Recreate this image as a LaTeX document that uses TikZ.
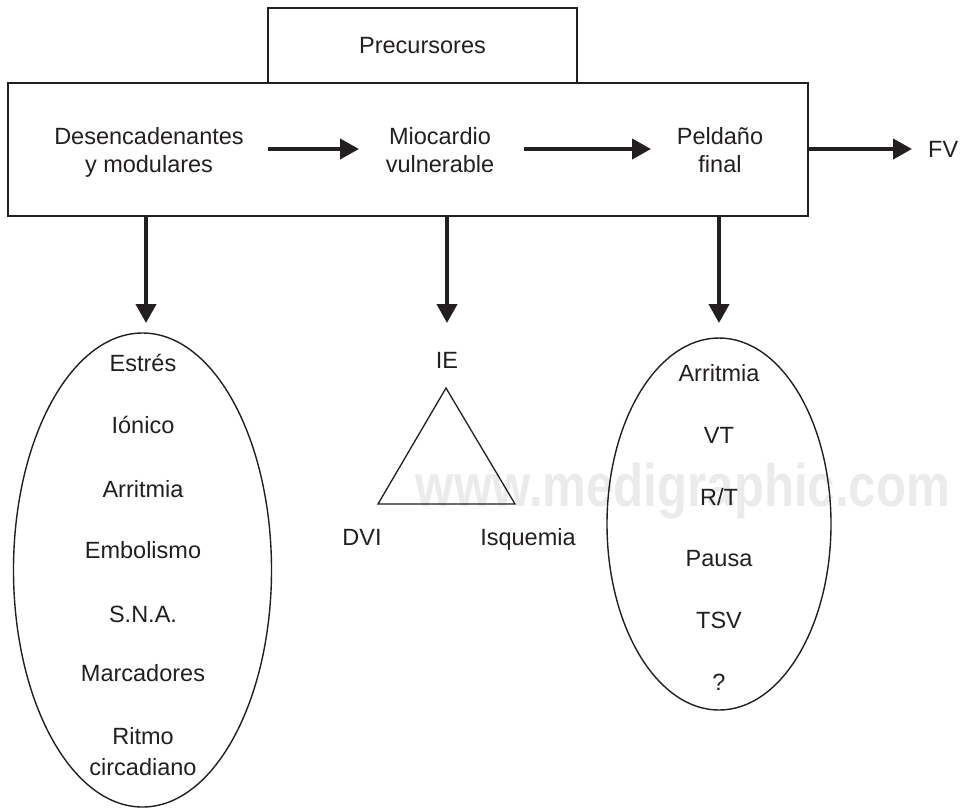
\documentclass[tikz,border=0pt]{standalone}
\usepackage{fontspec}
\setmainfont{Liberation Sans}
\usetikzlibrary{arrows.meta,shapes.geometric}
\definecolor{ink}{HTML}{231F20}
\begin{document}
\begin{tikzpicture}[x=1pt,y=-1pt,
  lbl/.style={anchor=base, font=\fontsize{23.5}{28}\selectfont, text=ink, inner sep=0pt},
  boxline/.style={draw=ink, line width=1.4pt},
  bigarrow/.style={draw=ink, line width=4pt, -{Triangle[length=19pt,width=20pt]}}
]
\useasboundingbox (0,0) rectangle (965,807);
% watermark
\node[anchor=base, font=\fontsize{60}{62}\selectfont\bfseries, text=black!8, xscale=0.82, inner sep=0pt] (wm) at (683,506) {www.medigraphic.com};

% boxes
\node[boxline, minimum width=309pt, minimum height=75pt, inner sep=0pt, font=\fontsize{23.5}{28}\selectfont, text=ink] (prec) at (422.5,45.5) {Precursores};
\node[boxline, minimum width=800pt, minimum height=133pt, inner sep=0pt] (main) at (408,149.5) {};

% labels in main box
\node[lbl] (des1) at (149,144.5) {Desencadenantes};
\node[lbl] (des2) at (149,172) {y modulares};
\node[lbl] (mio1) at (440,144.5) {Miocardio};
\node[lbl] (mio2) at (440,172) {vulnerable};
\node[lbl] (pel1) at (720,144.5) {Peldaño};
\node[lbl] (pel2) at (720,172) {final};
\node[lbl, anchor=base west] (fv) at (928,157.5) {FV};

% horizontal arrows
\coordinate (a1s) at (268,149); \coordinate (a1e) at (359,149);
\coordinate (a2s) at (524,149); \coordinate (a2e) at (651,149);
\coordinate (a3s) at (808,149); \coordinate (a3e) at (912,149);
\draw[bigarrow] (a1s) -- (a1e);
\draw[bigarrow] (a2s) -- (a2e);
\draw[bigarrow] (a3s) -- (a3e);

% down arrows
\coordinate (d1s) at (146,216); \coordinate (d1e) at (146,323);
\coordinate (d2s) at (447,216); \coordinate (d2e) at (447,323);
\coordinate (d3s) at (719,216); \coordinate (d3e) at (719,323);
\draw[bigarrow] (d1s) -- (d1e);
\draw[bigarrow] (d2s) -- (d2e);
\draw[bigarrow] (d3s) -- (d3e);

% left ellipse
\node[ellipse, boxline, minimum width=258pt, minimum height=474pt, inner sep=0pt] (le) at (142.5,570) {};
\node[lbl] (l1) at (143,371.5) {Estrés};
\node[lbl] (l2) at (143,433.5) {Iónico};
\node[lbl] (l3) at (143,497.5) {Arritmia};
\node[lbl] (l4) at (143,558.5) {Embolismo};
\node[lbl] (l5) at (143,622) {S.N.A.};
\node[lbl] (l6) at (143,681.5) {Marcadores};
\node[lbl] (l7) at (143,744.5) {Ritmo};
\node[lbl] (l8) at (143,775.5) {circadiano};

% triangle
\coordinate (ta) at (446,388);
\coordinate (tb) at (378,504);
\coordinate (tc) at (515,504);
\draw[draw=ink, line width=1.3pt, line join=miter] (ta) -- (tb) -- (tc) -- cycle;
\node[lbl] (ie) at (447,368.5) {IE};
\node[lbl] (dvi) at (362,545.5) {DVI};
\node[lbl] (isq) at (528,545.5) {Isquemia};

% right ellipse
\node[ellipse, boxline, minimum width=224pt, minimum height=372pt, inner sep=0pt] (re) at (719,524) {};
\node[lbl] (r1) at (719,381.5) {Arritmia};
\node[lbl] (r2) at (719,443.5) {VT};
\node[lbl] (r3) at (719,505.5) {R/T};
\node[lbl] (r4) at (719,566.5) {Pausa};
\node[lbl] (r5) at (719,628.5) {TSV};
\node[lbl] (r6) at (719,690.5) {?};
\end{tikzpicture}
\end{document}
